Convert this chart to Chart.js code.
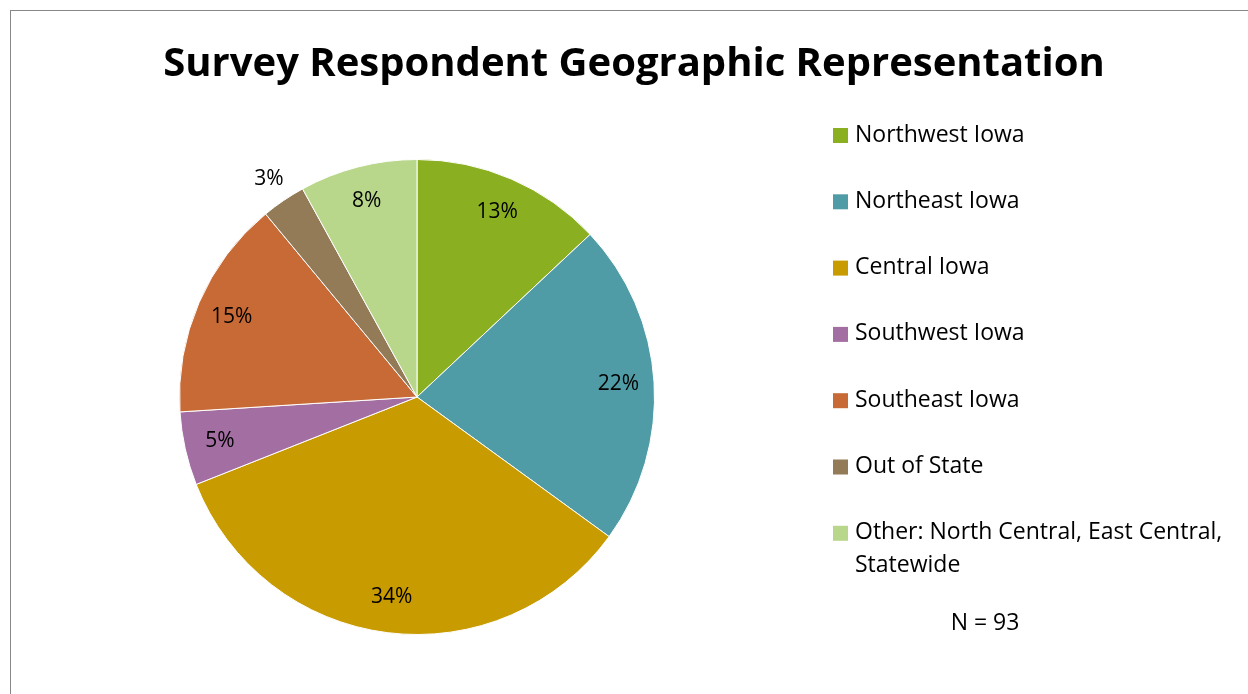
<!DOCTYPE html>
<html>
<head>
<meta charset="utf-8">
<title>Survey Respondent Geographic Representation</title>
<script src="https://cdn.jsdelivr.net/npm/chart.js@4/dist/chart.umd.min.js"></script>
<style>
  html, body { margin: 0; padding: 0; background: #fff; }
  canvas { display: block; }
</style>
</head>
<body>
<canvas id="pie" width="1248" height="694"></canvas>
<script>
const title = 'Survey Respondent Geographic Representation'
const regions = ['Northwest Iowa', 'Northeast Iowa', 'Central Iowa', 'Southwest Iowa',
  'Southeast Iowa', 'Out of State', 'Other: North Central, East Central, Statewide']
const shares = [13, 22, 34, 5, 15, 3, 8]
const respondents = 93
const colors = ['#8AB021', '#4F9CA6', '#C89B00', '#A36EA1', '#C86A36', '#947B57', '#B8D78B']

const FONT = '"Open Sans", "Noto Sans", sans-serif'

// frame, title, slice labels and the legend on the right
const decorations = {
  id: 'decorations',
  beforeDraw(chart) {
    const c = chart.ctx
    c.save()
    c.fillStyle = '#fff'
    c.fillRect(0, 0, chart.width, chart.height)
    c.strokeStyle = '#888'
    c.lineWidth = 1
    c.strokeRect(10.5, 10.5, 1400, 900)
    c.restore()
  },
  afterDatasetsDraw(chart) {
    const c = chart.ctx
    const arcs = chart.getDatasetMeta(0).data
    c.save()
    c.fillStyle = '#000'
    c.textAlign = 'center'
    c.textBaseline = 'middle'
    c.font = '21px ' + FONT
    arcs.forEach((arc, i) => {
      const p = arc.getProps(['x', 'y', 'startAngle', 'endAngle', 'outerRadius'], true)
      const mid = (p.startAngle + p.endAngle) / 2
      // thin slices get their label just outside the pie
      const r = shares[i] < 4 ? p.outerRadius * 1.11 : p.outerRadius * 0.85
      c.fillText(shares[i] + '%', p.x + Math.cos(mid) * r, p.y + Math.sin(mid) * r)
    })
    c.restore()
  },
  afterDraw(chart) {
    const c = chart.ctx
    c.save()
    c.fillStyle = '#000'
    c.textAlign = 'center'
    c.textBaseline = 'alphabetic'
    c.font = 'bold 40px ' + FONT
    c.fillText(title, 634, 76)

    c.font = '23px ' + FONT
    c.textAlign = 'left'
    c.textBaseline = 'middle'
    let y = 135
    regions.forEach((name, i) => {
      c.fillStyle = colors[i]
      c.fillRect(833, y - 7, 15, 15)
      c.fillStyle = '#000'
      // wrap long names
      const words = name.split(' ')
      const lines = []
      let line = ''
      words.forEach(w => {
        const t = line ? line + ' ' + w : w
        if (c.measureText(t).width > 400 && line) { lines.push(line); line = w } else line = t
      })
      lines.push(line)
      lines.forEach((l, k) => c.fillText(l, 855, y + k * 33))
      y += 66.3
    })
    c.textAlign = 'center'
    c.fillText('N = ' + respondents, 985, 623)
    c.restore()
  }
}

new Chart(document.getElementById('pie'), {
  type: 'pie',
  data: {
    labels: regions,
    datasets: [{
      data: shares,
      backgroundColor: colors,
      borderColor: '#fff',
      borderWidth: 1
    }]
  },
  options: {
    responsive: false,
    animation: false,
    layout: { padding: { top: 159, bottom: 59, left: 179, right: 593 } },
    plugins: {
      legend: { display: false },
      title: { display: false },
      tooltip: { enabled: false }
    }
  },
  plugins: [decorations]
})
</script>
</body>
</html>
